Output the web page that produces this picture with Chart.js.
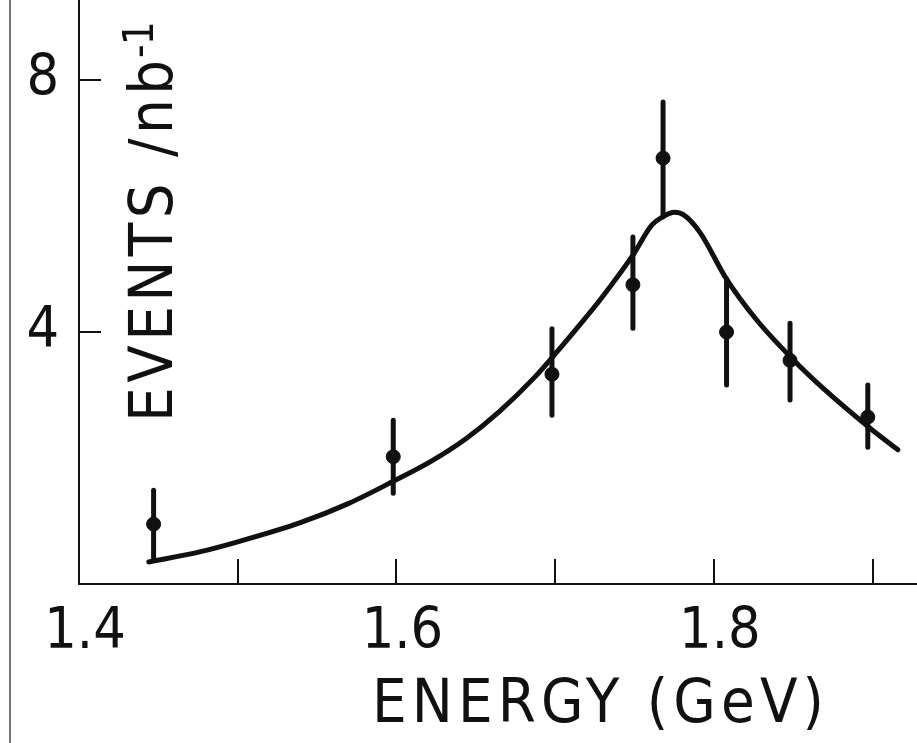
<!DOCTYPE html>
<html>
<head>
<meta charset="utf-8">
<script src="https://cdn.jsdelivr.net/npm/chart.js@4.4.1/dist/chart.umd.min.js"></script>
<style>
  html, body { margin: 0; padding: 0; background: #fff; }
  #wrap { position: relative; width: 917px; height: 743px; }
  #edge { position: absolute; left: 9px; top: 0; width: 2px; height: 743px; background: #777; }
  canvas { position: absolute; left: 0; top: 0; }
</style>
</head>
<body>
<div id="wrap">
  <canvas id="myChart" width="917" height="743"></canvas>
  <div id="edge"></div>
</div>
<script>
// measured points (energy in GeV, events per nb^-1)
const energy  = [1.447, 1.598, 1.698, 1.749, 1.768, 1.808, 1.848, 1.897];
const events  = [0.95, 2.02, 3.33, 4.75, 6.76, 4.00, 3.55, 2.65];
const errUp   = [0.54, 0.58, 0.72, 0.76, 0.89, 0.84, 0.59, 0.51];
const errDown = [0.57, 0.58, 0.65, 0.69, 0.93, 0.84, 0.63, 0.48];

// fitted curve
const fitEnergy = [1.444, 1.476, 1.500, 1.539, 1.570, 1.598, 1.622, 1.644, 1.665, 1.687, 1.701, 1.719, 1.728,
                   1.749, 1.761, 1.768, 1.775, 1.781, 1.791, 1.808, 1.827, 1.850, 1.870, 1.899, 1.916];
const fitEvents = [0.35, 0.51, 0.67, 0.97, 1.28, 1.63, 1.95, 2.31, 2.74, 3.28, 3.68, 4.22, 4.50,
                   5.22, 5.70, 5.83, 5.90, 5.86, 5.59, 4.84, 4.19, 3.56, 3.08, 2.46, 2.13];

const xTicks  = [1.4, 1.5, 1.6, 1.7, 1.8, 1.9];
const xLabels = ['1.4', '', '1.6', '', '1.8', ''];
const yTicks  = [4, 8];

const FONT = "'Liberation Sans Narrow', 'DejaVu Sans Condensed', 'DejaVu Sans', sans-serif";
const INK = '#111';

// draw text stretched to a given width with letter spacing
function spacedText(ctx, text, x, y, width) {
  ctx.letterSpacing = '0px';
  const w = ctx.measureText(text).width;
  ctx.letterSpacing = ((width - w) / (text.length - 1)) + 'px';
  ctx.fillText(text, x, y);
  ctx.letterSpacing = '0px';
}

function noPadding(s) {
  s.paddingTop = 0;
  s.paddingBottom = 0;
  s.paddingLeft = 0;
  s.paddingRight = 0;
}

const errorBars = {
  id: 'errorBars',
  afterDatasetsDraw(chart) {
    const { ctx, scales: { x, y } } = chart;
    ctx.save();
    ctx.strokeStyle = INK;
    ctx.lineWidth = 5;
    ctx.lineCap = 'round';
    energy.forEach((e, i) => {
      const px = x.getPixelForValue(e);
      ctx.beginPath();
      ctx.moveTo(px, y.getPixelForValue(events[i] + errUp[i]));
      ctx.lineTo(px, y.getPixelForValue(events[i] - errDown[i]));
      ctx.stroke();
    });
    ctx.restore();
  }
};

// tick marks pointing into the plot
const innerTicks = {
  id: 'innerTicks',
  afterDraw(chart) {
    const { ctx, chartArea: a, scales: { x, y } } = chart;
    ctx.save();
    ctx.strokeStyle = INK;
    ctx.lineWidth = 2;
    xTicks.slice(1).forEach(v => {
      const px = Math.round(x.getPixelForValue(v));
      ctx.beginPath();
      ctx.moveTo(px, a.bottom);
      ctx.lineTo(px, a.bottom - 25);
      ctx.stroke();
    });
    yTicks.forEach(v => {
      const py = Math.round(y.getPixelForValue(v));
      ctx.beginPath();
      ctx.moveTo(a.left, py);
      ctx.lineTo(a.left + 22, py);
      ctx.stroke();
    });
    ctx.restore();
  }
};

const axisTitles = {
  id: 'axisTitles',
  afterDraw(chart) {
    const { ctx, chartArea: a } = chart;
    ctx.save();
    ctx.fillStyle = INK;
    ctx.textAlign = 'left';
    ctx.textBaseline = 'alphabetic';

    // x title
    ctx.font = '61px ' + FONT;
    spacedText(ctx, 'ENERGY (GeV)', a.left + 293, a.bottom + 138, 452);

    // y title, rotated, sitting inside the plot
    ctx.translate(a.left + 93, a.bottom - 162);
    ctx.rotate(-Math.PI / 2);
    ctx.font = '61px ' + FONT;
    spacedText(ctx, 'EVENTS /nb', 0, 0, 362);
    ctx.font = '42px ' + FONT;
    ctx.letterSpacing = '-1px';
    ctx.fillText('-1', 364, -19);
    ctx.restore();
  }
};

const ctx = document.getElementById('myChart').getContext('2d');
const chart = new Chart(ctx, {
  type: 'scatter',
  data: {
    datasets: [
      {
        label: 'data',
        data: energy.map((e, i) => ({ x: e, y: events[i] })),
        backgroundColor: INK,
        borderColor: INK,
        pointRadius: 7,
        pointHoverRadius: 7,
        showLine: false
      },
      {
        label: 'fit',
        data: fitEnergy.map((e, i) => ({ x: e, y: fitEvents[i] })),
        borderColor: INK,
        borderWidth: 5,
        borderCapStyle: 'round',
        pointRadius: 0,
        showLine: true,
        cubicInterpolationMode: 'monotone',
        fill: false
      }
    ]
  },
  options: {
    responsive: false,
    animation: false,
    devicePixelRatio: 1,
    layout: { padding: 0, autoPadding: false },
    plugins: {
      legend: { display: false },
      tooltip: { enabled: false }
    },
    scales: {
      x: {
        type: 'linear',
        min: 1.4,
        max: 1.928,
        afterBuildTicks: s => { s.ticks = xTicks.map(v => ({ value: v })); },
        afterFit: s => { s.height = 159; noPadding(s); },
        grid: { display: false, drawTicks: false },
        border: { display: true, color: INK, width: 2 },
        ticks: {
          autoSkip: false,
          maxRotation: 0,
          padding: 15,
          labelOffset: 6,
          color: INK,
          font: { family: FONT, size: 57 },
          callback: (v, i) => xLabels[i]
        }
      },
      y: {
        min: 0,
        max: 9.27,
        afterBuildTicks: s => { s.ticks = yTicks.map(v => ({ value: v })); },
        afterFit: s => { s.width = 79; noPadding(s); },
        grid: { display: false, drawTicks: false },
        border: { display: true, color: INK, width: 2 },
        ticks: {
          padding: 20,
          color: INK,
          font: { family: FONT, size: 57 },
          callback: v => String(v)
        }
      }
    }
  },
  plugins: [errorBars, innerTicks, axisTitles]
});
</script>
</body>
</html>
